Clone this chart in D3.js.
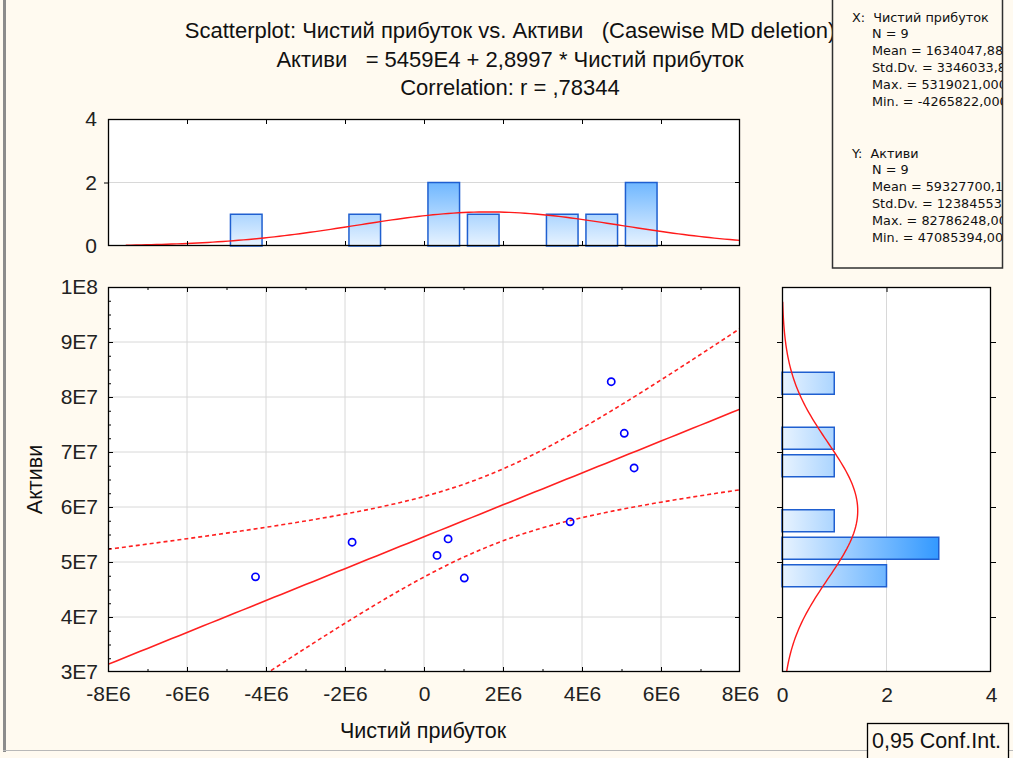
<!DOCTYPE html>
<html>
<head>
<meta charset="utf-8">
<script src="https://cdn.jsdelivr.net/npm/d3@7"></script>
<style>
body{margin:0;background:#fffaf0;}
svg{display:block;font-family:"Liberation Sans",Arial,sans-serif;}
text{white-space:pre;}
</style>
</head>
<body>
<div id="chart"></div>
<script>
// values
const profitX = [-4265822, -1820000, 330000, 610000, 1020000, 3700000, 4740000, 5070000, 5319021];
const assetsY = [47300000, 53600000, 51200000, 54200000, 47085394, 57300000, 82786248, 73400000, 67100000];

const xTicks = [-8e6, -6e6, -4e6, -2e6, 0, 2e6, 4e6, 6e6, 8e6];
const xTickLabels = ["-8E6", "-6E6", "-4E6", "-2E6", "0", "2E6", "4E6", "6E6", "8E6"];
const yTicks = [3e7, 4e7, 5e7, 6e7, 7e7, 8e7, 9e7, 1e8];
const yTickLabels = ["3E7", "4E7", "5E7", "6E7", "7E7", "8E7", "9E7", "1E8"];
const countTicks = [0, 2, 4];
const countTickLabels = ["0", "2", "4"];

// fit shown in the title and the stats box
const intercept = 5459e4;
const slope = 2.8997;
const tCrit = 2.3646;          // t(0.975, df = 7)
const xMean = 1634047.88, xStd = 3346033.8;
const yMean = 59327700.1, yStd = 12384553;
const xBinWidth = 1e6, yBinWidth = 5e6;
const xCurveRange = [-7.55e6, 8e6];
const yCurveRange = [3e7, 9.73e7];

const titleLines = [
    "Scatterplot: Чистий прибуток vs. Активи   (Casewise MD deletion)",
    "Активи   = 5459E4 + 2,8997 * Чистий прибуток",
    "Correlation: r = ,78344"
];
const statsXName = "X:  Чистий прибуток";
const statsX = ["N = 9", "Mean = 1634047,88", "Std.Dv. = 3346033,8", "Max. = 5319021,000", "Min. = -4265822,000"];
const statsYName = "Y:  Активи";
const statsY = ["N = 9", "Mean = 59327700,1", "Std.Dv. = 12384553,", "Max. = 82786248,00", "Min. = 47085394,00"];

const W = 1013, H = 758;
const main = {left: 108, right: 740, top: 287, bottom: 672};
const topH = {left: 108, right: 740, top: 119, bottom: 246};
const sideH = {left: 782, right: 991, top: 287, bottom: 672};
const tickFont = 21;

const svg = d3.select("#chart").append("svg").attr("width", W).attr("height", H);
const defs = svg.append("defs");

// scales
const x = d3.scaleLinear().domain([-8e6, 8e6]).range([main.left, main.right]);
const y = d3.scaleLinear().domain([3e7, 1e8]).range([main.bottom, main.top]);
const hc = d3.scaleLinear().domain([0, 4]).range([topH.bottom, topH.top]);
const sc = d3.scaleLinear().domain([0, 4]).range([sideH.left, sideH.right]);

// window edges
svg.append("rect").attr("x", 3).attr("y", 0).attr("width", 3).attr("height", 752).attr("fill", "#8c8c8c");
svg.append("line").attr("x1", 3).attr("x2", W).attr("y1", 750.5).attr("y2", 750.5).attr("stroke", "#b8b8b8");

// titles
svg.append("g").selectAll("text").data(titleLines).join("text")
    .attr("x", 510).attr("y", (d, i) => 38 + i * 28.5)
    .attr("text-anchor", "middle").attr("font-size", 22).attr("fill", "#111")
    .text(d => d);

// gradients for the bars
const gTop = defs.append("linearGradient").attr("id", "gTop")
    .attr("gradientUnits", "userSpaceOnUse")
    .attr("x1", 0).attr("x2", 0).attr("y1", hc(0)).attr("y2", hc(3));
gTop.append("stop").attr("offset", 0).attr("stop-color", "#e8f3ff");
gTop.append("stop").attr("offset", 1).attr("stop-color", "#3399ff");
const gSide = defs.append("linearGradient").attr("id", "gSide")
    .attr("gradientUnits", "userSpaceOnUse")
    .attr("y1", 0).attr("y2", 0).attr("x1", sc(0)).attr("x2", sc(3));
gSide.append("stop").attr("offset", 0).attr("stop-color", "#e8f3ff");
gSide.append("stop").attr("offset", 1).attr("stop-color", "#3399ff");

function clipFor(id, b) {
    defs.append("clipPath").attr("id", id).append("rect")
        .attr("x", b.left).attr("y", b.top).attr("width", b.right - b.left).attr("height", b.bottom - b.top);
}
clipFor("clipMain", main);
clipFor("clipTop", topH);
clipFor("clipSide", sideH);

function plotBg(b) {
    svg.append("rect").attr("x", b.left).attr("y", b.top)
        .attr("width", b.right - b.left).attr("height", b.bottom - b.top).attr("fill", "#fff");
}
function frame(b) {
    svg.append("rect").attr("x", b.left + 0.5).attr("y", b.top + 0.5)
        .attr("width", b.right - b.left - 1).attr("height", b.bottom - b.top - 1)
        .attr("fill", "none").attr("stroke", "#000").attr("stroke-width", 1.3);
}
function labelStyle(g) {
    g.selectAll("text").attr("font-size", tickFont).attr("fill", "#222")
        .attr("font-family", "Liberation Sans, Arial");
}
const gridColor = "#d8d8d8";

// ---------- top histogram ----------
plotBg(topH);
svg.append("line").attr("x1", topH.left).attr("x2", topH.right)
    .attr("y1", hc(2)).attr("y2", hc(2)).attr("stroke", gridColor);

const xBins = d3.bin().domain([-8e6, 8e6]).thresholds(d3.range(-8e6, 8e6, xBinWidth))(profitX)
    .filter(b => b.length > 0);
svg.append("g").selectAll("rect").data(xBins).join("rect")
    .attr("x", b => x(b.x0 + xBinWidth * 0.1))
    .attr("width", b => x(b.x1 - xBinWidth * 0.1) - x(b.x0 + xBinWidth * 0.1))
    .attr("y", b => hc(b.length))
    .attr("height", b => hc(0) - hc(b.length))
    .attr("fill", "url(#gTop)").attr("stroke", "#1f5fd0").attr("stroke-width", 1.5);

const xCurve = d3.range(0, 121).map(i => xCurveRange[0] + (xCurveRange[1] - xCurveRange[0]) * i / 120)
    .map(v => [v, profitX.length * xBinWidth * Math.exp(-0.5 * ((v - xMean) / xStd) ** 2) / (xStd * Math.sqrt(2 * Math.PI))]);
svg.append("path").datum(xCurve)
    .attr("clip-path", "url(#clipTop)")
    .attr("d", d3.line().x(d => x(d[0])).y(d => hc(d[1])))
    .attr("fill", "none").attr("stroke", "#ff1a1a").attr("stroke-width", 1.4);

frame(topH);
svg.append("g").attr("transform", `translate(0,${topH.top})`)
    .call(d3.axisTop(x).tickValues(xTicks.slice(1, -1)).tickSize(-5).tickSizeOuter(0).tickFormat(""))
    .call(g => g.select(".domain").remove());
svg.append("g").attr("transform", `translate(0,${topH.bottom})`)
    .call(d3.axisBottom(x).tickValues(xTicks.slice(1, -1)).tickSize(-5).tickSizeOuter(0).tickFormat(""))
    .call(g => g.select(".domain").remove());
svg.append("g").attr("transform", `translate(${topH.left},0)`)
    .call(d3.axisLeft(hc).tickValues(countTicks).tickSize(4).tickSizeOuter(0).tickPadding(7)
        .tickFormat((d, i) => countTickLabels[i]))
    .call(g => g.select(".domain").remove())
    .call(g => g.selectAll("line").attr("stroke", (d) => d === 2 ? "#000" : "none"))
    .call(labelStyle);
svg.append("line").attr("x1", topH.right - 5).attr("x2", topH.right).attr("y1", hc(2)).attr("y2", hc(2)).attr("stroke", "#000");

// ---------- main scatterplot ----------
plotBg(main);
svg.append("g").selectAll("line").data(xTicks.slice(1, -1)).join("line")
    .attr("x1", d => x(d)).attr("x2", d => x(d)).attr("y1", main.top).attr("y2", main.bottom)
    .attr("stroke", gridColor);
svg.append("g").selectAll("line").data(yTicks.slice(1, -1)).join("line")
    .attr("y1", d => y(d)).attr("y2", d => y(d)).attr("x1", main.left).attr("x2", main.right)
    .attr("stroke", gridColor);

// regression line and 0.95 confidence band
const n = profitX.length;
const xBar = d3.mean(profitX);
const sxx = d3.sum(profitX, v => (v - xBar) ** 2);
const resid = profitX.map((v, i) => assetsY[i] - (intercept + slope * v));
const se = Math.sqrt(d3.sum(resid, r => r * r) / (n - 2));
const xs = d3.range(0, 81).map(i => -8e6 + 16e6 * i / 80);
const fit = v => intercept + slope * v;
const half = v => tCrit * se * Math.sqrt(1 / n + (v - xBar) ** 2 / sxx);

const fitG = svg.append("g").attr("clip-path", "url(#clipMain)");
const lineGen = d3.line().x(d => x(d[0])).y(d => y(d[1]));
fitG.append("path").datum(xs.map(v => [v, fit(v)])).attr("d", lineGen)
    .attr("fill", "none").attr("stroke", "#ff2020").attr("stroke-width", 1.6);
[1, -1].forEach(sgn => {
    fitG.append("path").datum(xs.map(v => [v, fit(v) + sgn * half(v)])).attr("d", lineGen)
        .attr("fill", "none").attr("stroke", "#ff2020").attr("stroke-width", 1.6)
        .attr("stroke-dasharray", "4,3");
});

svg.append("g").selectAll("circle").data(profitX).join("circle")
    .attr("cx", d => x(d)).attr("cy", (d, i) => y(assetsY[i])).attr("r", 3.6)
    .attr("fill", "none").attr("stroke", "#0000ff").attr("stroke-width", 1.7);

frame(main);
const xMinor = d3.range(-7e6, 8e6, 2e6);
const yMinor = d3.range(3e7, 1e8 + 1, 2.5e6).filter(v => !yTicks.includes(v));
function ticksG(axis, tr) {
    svg.append("g").attr("transform", tr).call(axis).call(g => g.select(".domain").remove());
}
ticksG(d3.axisBottom(x).tickValues(xTicks.slice(1, -1)).tickSize(-5).tickSizeOuter(0).tickFormat(""), `translate(0,${main.bottom})`);
ticksG(d3.axisBottom(x).tickValues(xMinor).tickSize(-3).tickSizeOuter(0).tickFormat(""), `translate(0,${main.bottom})`);
ticksG(d3.axisTop(x).tickValues(xTicks.slice(1, -1)).tickSize(-5).tickSizeOuter(0).tickFormat(""), `translate(0,${main.top})`);
ticksG(d3.axisTop(x).tickValues(xMinor).tickSize(-3).tickSizeOuter(0).tickFormat(""), `translate(0,${main.top})`);
ticksG(d3.axisLeft(y).tickValues(yTicks.slice(1, -1)).tickSize(-5).tickSizeOuter(0).tickFormat(""), `translate(${main.left},0)`);
ticksG(d3.axisLeft(y).tickValues(yMinor).tickSize(-3).tickSizeOuter(0).tickFormat(""), `translate(${main.left},0)`);
ticksG(d3.axisRight(y).tickValues(yTicks.slice(1, -1)).tickSize(-5).tickSizeOuter(0).tickFormat(""), `translate(${main.right},0)`);

// tick labels
svg.append("g").attr("transform", `translate(0,${main.bottom})`)
    .call(d3.axisBottom(x).tickValues(xTicks).tickSize(0).tickPadding(14).tickFormat((d, i) => xTickLabels[i]))
    .call(g => g.select(".domain").remove())
    .call(labelStyle);
svg.append("g").attr("transform", `translate(${main.left},0)`)
    .call(d3.axisLeft(y).tickValues(yTicks).tickSize(0).tickPadding(10).tickFormat((d, i) => yTickLabels[i]))
    .call(g => g.select(".domain").remove())
    .call(labelStyle);

svg.append("text").attr("x", 423).attr("y", 738).attr("text-anchor", "middle")
    .attr("font-size", 21.5).attr("fill", "#111").text("Чистий прибуток");
svg.append("text").attr("transform", `translate(42,${(main.top + main.bottom) / 2}) rotate(-90)`)
    .attr("text-anchor", "middle").attr("font-size", 21.5).attr("fill", "#111").text("Активи");

// ---------- side histogram ----------
plotBg(sideH);
svg.append("line").attr("x1", sc(2)).attr("x2", sc(2)).attr("y1", sideH.top).attr("y2", sideH.bottom)
    .attr("stroke", gridColor);
const yBins = d3.bin().domain([3e7, 1e8]).thresholds(d3.range(3e7, 1e8, yBinWidth))(assetsY)
    .filter(b => b.length > 0);
svg.append("g").selectAll("rect").data(yBins).join("rect")
    .attr("y", b => y(b.x1 - yBinWidth * 0.1))
    .attr("height", b => y(b.x0 + yBinWidth * 0.1) - y(b.x1 - yBinWidth * 0.1))
    .attr("x", sc(0))
    .attr("width", b => sc(b.length) - sc(0))
    .attr("fill", "url(#gSide)").attr("stroke", "#1f5fd0").attr("stroke-width", 1.5);
const yCurve = d3.range(0, 121).map(i => yCurveRange[0] + (yCurveRange[1] - yCurveRange[0]) * i / 120)
    .map(v => [v, assetsY.length * yBinWidth * Math.exp(-0.5 * ((v - yMean) / yStd) ** 2) / (yStd * Math.sqrt(2 * Math.PI))]);
svg.append("path").datum(yCurve)
    .attr("clip-path", "url(#clipSide)")
    .attr("d", d3.line().x(d => sc(d[1])).y(d => y(d[0])))
    .attr("fill", "none").attr("stroke", "#ff1a1a").attr("stroke-width", 1.4);
frame(sideH);
ticksG(d3.axisRight(y).tickValues(yTicks.slice(1, -1)).tickSize(-5).tickSizeOuter(0).tickFormat(""), `translate(${sideH.left},0)`);
ticksG(d3.axisLeft(y).tickValues(yTicks.slice(1, -1)).tickSize(-5).tickSizeOuter(0).tickFormat(""), `translate(${sideH.right},0)`);
ticksG(d3.axisTop(sc).tickValues([2]).tickSize(-5).tickSizeOuter(0).tickFormat(""), `translate(0,${sideH.top})`);
svg.append("g").attr("transform", `translate(0,${sideH.bottom})`)
    .call(d3.axisBottom(sc).tickValues(countTicks).tickSize(0).tickPadding(15).tickFormat((d, i) => countTickLabels[i]))
    .call(g => g.select(".domain").remove())
    .call(labelStyle);

// ---------- stats box ----------
defs.append("clipPath").attr("id", "clipStats").append("rect")
    .attr("x", 832).attr("y", 0).attr("width", 170).attr("height", 268);
svg.append("rect").attr("x", 832.5).attr("y", -2).attr("width", 170).attr("height", 270)
    .attr("fill", "#fffaf0").attr("stroke", "#303030").attr("stroke-width", 1.5);
const stats = svg.append("g").attr("clip-path", "url(#clipStats)")
    .attr("font-family", "DejaVu Sans, sans-serif").attr("font-size", 12.8).attr("fill", "#111");
[[statsXName, statsX, 17], [statsYName, statsY, 153]].forEach(([name, lines, y0]) => {
    stats.append("text").attr("x", 852).attr("y", y0 + 4.5).text(name);
    stats.selectAll(null).data(lines).join("text")
        .attr("x", 872).attr("y", (d, i) => y0 + 4.5 + (i + 1) * 16.9).text(d => d);
});

// ---------- conf. int. box ----------
svg.append("rect").attr("x", 867.5).attr("y", 723.5).attr("width", 141).attr("height", 40)
    .attr("fill", "#fffaf0").attr("stroke", "#000").attr("stroke-width", 1.3);
svg.append("text").attr("x", 872).attr("y", 748).attr("font-size", 21.5).attr("fill", "#111").text("0,95 Conf.Int.");
</script>
</body>
</html>
